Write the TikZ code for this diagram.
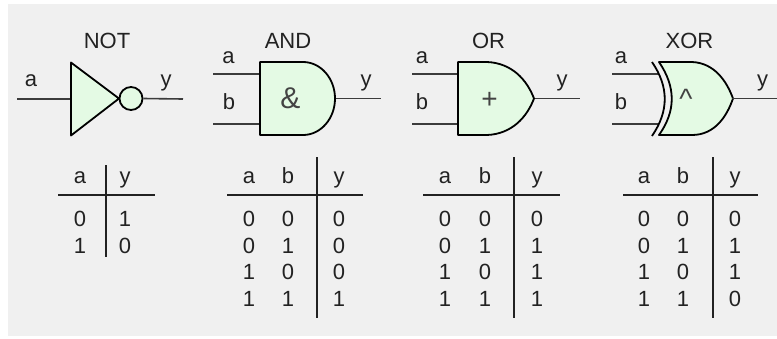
\documentclass[tikz,border=0pt]{standalone}
\usepackage{fontspec}
\setmainfont{Liberation Sans}
\definecolor{bgray}{RGB}{240,240,240}
\definecolor{gatefill}{RGB}{228,250,228}
\definecolor{ink}{RGB}{34,34,34}
\definecolor{wirec}{RGB}{60,60,60}
\newcommand\ttbl[9]{%
  % #1 name, #2 xa, #3 xb, #4 xy, #5 vline x, #6 hline left, #7 hline right, #8 rows
  \node[lbl] (#1Ha) at (#2,183.5) {a};
  \node[lbl] (#1Hb) at (#3,183.5) {b};
  \node[lbl] (#1Hy) at (#4,183.5) {y};
  \draw[rulel] (#6,194.5) -- (#7,194.5);
  \draw[rulel] (#5,157) -- (#5,318);
  \foreach \va/\vb/\vy [count=\i from 0] in {#8} {
    \pgfmathsetmacro\yl{226.5+26.67*\i}
    \node[lbl] (#1A\i) at (#2,\yl) {\va};
    \node[lbl] (#1B\i) at (#3,\yl) {\vb};
    \node[lbl] (#1Y\i) at (#4,\yl) {\vy};
  }#9}
\begin{document}
\begin{tikzpicture}[x=1pt,y=-1pt,
  lbl/.style={inner sep=0pt,anchor=base,text=ink,font=\fontsize{22}{26}\selectfont},
  sym/.style={inner sep=0pt,anchor=base,text=ink!85,font=\fontsize{28}{32}\selectfont},
  wireline/.style={draw=wirec,line width=1.6pt},
  gatebody/.style={draw=black,fill=gatefill,line width=1.8pt,line join=round},
  rulel/.style={draw=ink,line width=2pt}]
\useasboundingbox (0,0) rectangle (777,338);
\fill[white] (0,0) rectangle (777,338);
\fill[bgray] (8,4) rectangle (777,336);

% ---------------- NOT ----------------
\coordinate (notIn) at (17,99);
\coordinate (notA) at (71,99);
\coordinate (notOut) at (183,99);
\draw[wireline] (notIn) -- (notA);
\draw[gatebody] (71,62.5) -- (119,98.5) -- (71,135.5) -- cycle;
\node[gatebody,circle,minimum size=23pt,inner sep=0pt] (notBub) at (131,98.5) {};
\draw[wireline] (notBub.east) -- (notOut);
\node[lbl] (notT) at (107,48) {NOT};
\node[lbl] (notLa) at (31,86) {a};
\node[lbl] (notLy) at (166,86) {y};

% ---------------- AND ----------------
\coordinate (andInA) at (213,74); \coordinate (andPA) at (260,74);
\coordinate (andInB) at (213,124); \coordinate (andPB) at (260,124);
\coordinate (andPY) at (335,98.5); \coordinate (andOut) at (381,98.5);
\draw[wireline] (andInA) -- (andPA);
\draw[wireline] (andInB) -- (andPB);
\draw[wireline] (andPY) -- (andOut);
\draw[gatebody] (260,62) -- (303,62) arc[start angle=-90,end angle=90,x radius=32,y radius=36.5] -- (260,135) -- cycle;
\node[lbl] (andT) at (288,48) {AND};
\node[lbl] (andLa) at (228.5,63) {a};
\node[lbl] (andLb) at (229,109) {b};
\node[lbl] (andLy) at (366,86) {y};
\node[sym,font=\fontsize{30}{34}\selectfont] (andSym) at (290.5,108) {\&};

% ---------------- OR ----------------
\coordinate (orInA) at (412,74); \coordinate (orPA) at (458,74);
\coordinate (orInB) at (412,124); \coordinate (orPB) at (458,124);
\coordinate (orPY) at (534,98.5); \coordinate (orOut) at (580,98.5);
\draw[wireline] (orInA) -- (orPA);
\draw[wireline] (orInB) -- (orPB);
\draw[wireline] (orPY) -- (orOut);
\draw[gatebody] (458,62) -- (487,62) .. controls (512,63) and (527,80) .. (534,98.5)
  .. controls (527,117) and (512,134) .. (487,135) -- (458,135) -- cycle;
\node[lbl] (orT) at (488.5,48) {OR};
\node[lbl] (orLa) at (422,63) {a};
\node[lbl] (orLb) at (422,109) {b};
\node[lbl] (orLy) at (562,86) {y};
\node[sym] (orSym) at (489.5,108.4) {+};

% ---------------- XOR ----------------
\coordinate (xorInA) at (612,74); \coordinate (xorPA) at (658,74);
\coordinate (xorInB) at (612,124); \coordinate (xorPB) at (658,124);
\coordinate (xorPY) at (732,98.5); \coordinate (xorOut) at (776.5,98.5);
\draw[wireline] (xorInA) -- (xorPA);
\draw[wireline] (xorInB) -- (xorPB);
\draw[draw=black,line width=1.8pt] (652,62) .. controls (669,87) and (669,111) .. (652,136);
\draw[gatebody] (659,62) -- (692,62) .. controls (715,63) and (727,82) .. (733,98.5)
  .. controls (727,116) and (715,135) .. (692,135) -- (659,135)
  .. controls (676,111) and (676,87) .. cycle;
\draw[wireline] (xorPY) -- (xorOut);
\node[lbl] (xorT) at (689.5,48) {XOR};
\node[lbl] (xorLa) at (621,63) {a};
\node[lbl] (xorLb) at (621,109) {b};
\node[lbl] (xorLy) at (762.5,86) {y};
\node[sym] (xorSym) at (686,108.3) {\textasciicircum};

% ---------------- tables ----------------
\node[lbl] (ntHa) at (80,183.5) {a};
\node[lbl] (ntHy) at (125,183.5) {y};
\draw[rulel] (58,194.5) -- (155,194.5);
\draw[rulel] (106,165) -- (106,257);
\node[lbl] (ntA0) at (80,226.5) {0};
\node[lbl] (ntY0) at (125,226.5) {1};
\node[lbl] (ntA1) at (80,253.2) {1};
\node[lbl] (ntY1) at (125,253.2) {0};

\ttbl{at}{249}{288}{339}{317}{227}{363}{0/0/0,0/1/0,1/0/0,1/1/1}{}
\ttbl{ot}{445}{485}{537}{514}{423}{560}{0/0/0,0/1/1,1/0/1,1/1/1}{}
\ttbl{xt}{644}{683}{735}{713}{623}{758}{0/0/0,0/1/1,1/0/1,1/1/0}{}
\end{tikzpicture}
\end{document}
